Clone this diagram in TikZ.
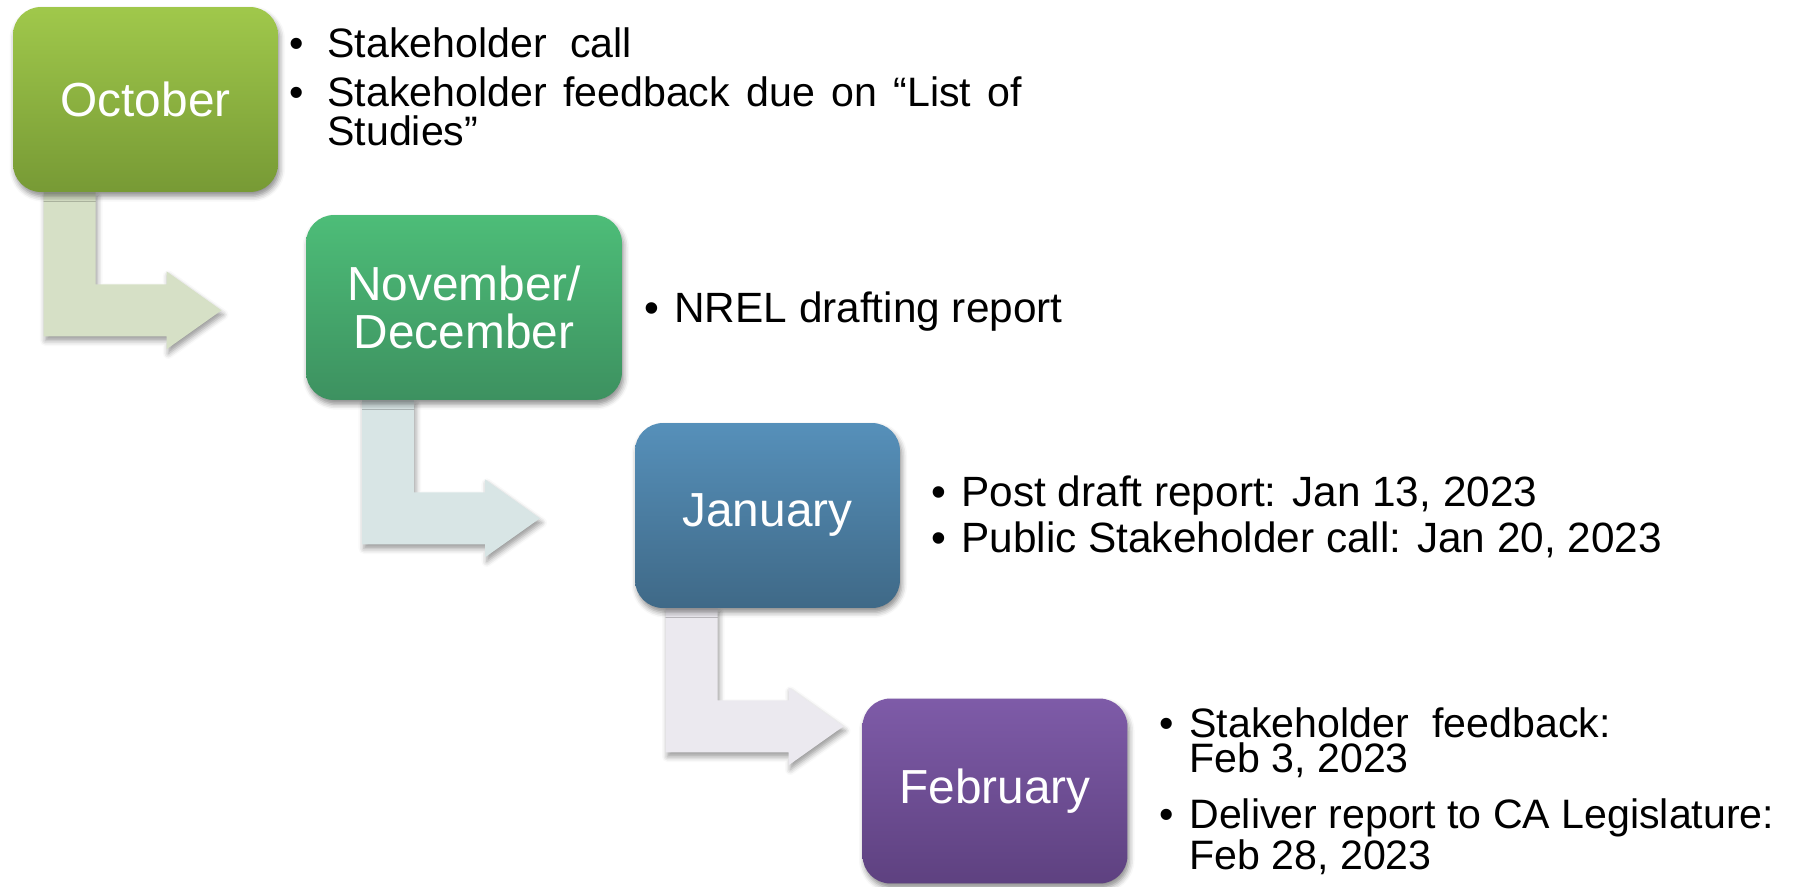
\documentclass[tikz,border=0pt]{standalone}
\usepackage{fontspec}
\setmainfont{Liberation Sans}
\usetikzlibrary{calc,shadows.blur}
\definecolor{octtop}{HTML}{A0C84B}
\definecolor{octbot}{HTML}{779A35}
\definecolor{novtop}{HTML}{4DBD78}
\definecolor{novbot}{HTML}{3D9160}
\definecolor{jantop}{HTML}{5690BA}
\definecolor{janbot}{HTML}{3F6987}
\definecolor{febtop}{HTML}{7E5BA8}
\definecolor{febbot}{HTML}{5E4180}
\definecolor{octarrow}{HTML}{D6E0C6}
\definecolor{novarrow}{HTML}{D8E5E5}
\definecolor{janarrow}{HTML}{EBE9EF}
\pgfdeclarelayer{background}
\pgfsetlayers{background,main}
\tikzset{
  month/.style={rectangle, rounded corners=0.56cm, minimum height=3.7cm, minimum width=5.3cm,
    inner sep=0pt, align=center, text=white, font=\fontsize{27.2}{27.2}\selectfont,
    blur shadow={shadow xshift=1pt, shadow yshift=-2.5pt, shadow blur radius=3pt, shadow opacity=45}},
  note/.style={anchor=base west, align=left, inner sep=0pt, font=\fontsize{23.4}{21}\selectfont},
  bendshape/.style={blur shadow={shadow xshift=1pt, shadow yshift=-2.5pt, shadow blur radius=3pt, shadow opacity=40}}
}
\newcommand{\bul}[1][0.6cm]{\makebox[#1][l]{\textbullet}}
\newcommand{\ind}[1][0.6cm]{\hspace*{#1}}
\newcommand{\wide}{\hspace{0.3em}}
% bent arrow hanging under a month box
\newcommand{\bentarrow}[2]{\fill[#2, bendshape] ($(#1.south)+(-102,0)$) -- ($(#1.south)+(-50,0)$)
  -- ($(#1.south)+(-50,92)$) -- ($(#1.south)+(21,92)$) -- ($(#1.south)+(21,79)$)
  -- ($(#1.south)+(76,118)$) -- ($(#1.south)+(21,157)$) -- ($(#1.south)+(21,144)$)
  -- ($(#1.south)+(-102,144)$) -- cycle;}

\begin{document}
\begin{tikzpicture}[x=0.02cm, y=-0.02cm]
\useasboundingbox (0,0) rectangle (1804,886);
\node[month, top color=octtop, bottom color=octbot] (oct) at (145.5,99.5) {October};
\node[month, minimum width=6.32cm, top color=novtop, bottom color=novbot] (nov) at (464,307.5) {November/\\December};
\node[month, top color=jantop, bottom color=janbot] (jan) at (767.5,515.5) {January};
\node[month, top color=febtop, bottom color=febbot] (feb) at (995,791) {February};
% bullet notes (anchored on the baseline of their last line)
\node[note] (oct1) at (289,57) {\bul[0.76cm]Stakeholder\wide{} call};
\node[note, font=\fontsize{23.4}{21.8}\selectfont] (oct2) at (289,145)
  {\bul[0.76cm]\makebox[13.9cm][s]{Stakeholder feedback due on “List of}\\ \ind[0.76cm]Studies”};
\node[note, font=\fontsize{24.1}{21}\selectfont] (nov1) at (644,322) {\bul NREL drafting report};
\node[note, font=\fontsize{24.1}{21}\selectfont] (jan1) at (931,506) {\bul Post draft report: Jan 13, 2023};
\node[note, font=\fontsize{24.1}{21}\selectfont] (jan2) at (931,552) {\bul Public Stakeholder call: Jan 20, 2023};
\node[note, font=\fontsize{23.4}{19.5}\selectfont] (feb1) at (1159,772) {\bul Stakeholder\wide{} feedback:\\ \ind Feb 3, 2023};
\node[note, font=\fontsize{23.4}{19.5}\selectfont] (feb2) at (1159,869) {\bul Deliver report to CA Legislature:\\ \ind Feb 28, 2023};
\begin{pgfonlayer}{background}
\bentarrow{oct}{octarrow}
\bentarrow{nov}{novarrow}
\bentarrow{jan}{janarrow}
\end{pgfonlayer}
\end{tikzpicture}
\end{document}
